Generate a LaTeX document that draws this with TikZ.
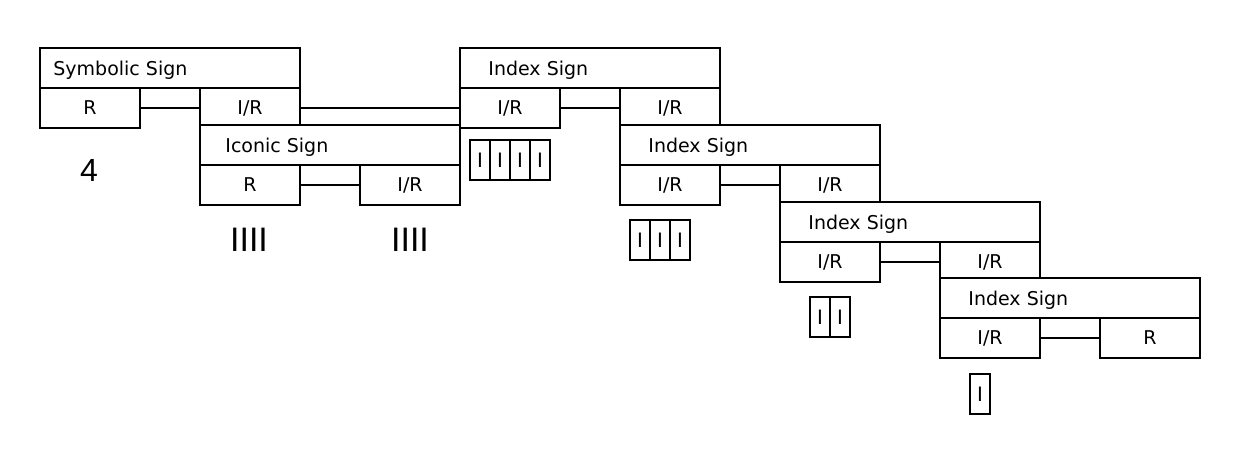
\documentclass[tikz,border=0pt]{standalone}
\usepackage{fontspec}
\setmainfont{DejaVu Sans}
\newfontfamily\barfont{Liberation Sans}
\usepackage{tikz}
\usetikzlibrary{positioning}

\begin{document}
\begin{tikzpicture}[x=0.5pt,y=-0.5pt]
            \tikzstyle{header}=[rectangle, minimum width = 130pt, minimum height = 20pt, inner sep=0pt, line width=1.2pt, draw = black, fill = white]
            \tikzstyle{cell}=[rectangle, minimum width = 50pt, minimum height = 20pt, inner sep=0pt, line width=1.2pt, draw = black, font=\fontsize{9.5}{11}\selectfont]
            \tikzstyle{tally}=[rectangle, minimum width = 10pt, minimum height = 20pt, inner sep=0pt, line width=1pt, draw = black, font=\barfont\fontsize{10.5}{12}\selectfont]
            \tikzstyle{title}=[anchor=west, inner sep=0pt, font=\fontsize{9.5}{11}\selectfont]
            \tikzstyle{bars}=[inner sep=0pt, font=\barfont\fontsize{17}{19}\selectfont]
            \tikzstyle{connect}=[line width=1.2pt]
            \useasboundingbox (0,0) rectangle (1240,455);

            % symbolic sign
            \node[header] (SymH) at (170,68){};
            \node[title] (SymT) at (53,70){Symbolic Sign};
            \node[cell] (SymR) at (90,108){R};
            \node[cell] (SymIR) at (250,108){I/R};

            % iconic sign
            \node[header] (IcoH) at (330,145){};
            \node[title] (IcoT) at (225,147){Iconic Sign};
            \node[cell] (IcoR) at (250,185){R};
            \node[cell] (IcoIR) at (410,185){I/R};

            % index signs
            \node[header] (IdxH1) at (590,68){};
            \node[title] (IdxT1) at (488,70){Index Sign};
            \node[cell] (IdxA1) at (510,108){I/R};
            \node[cell] (IdxB1) at (670,108){I/R};

            \node[header] (IdxH2) at (750,145){};
            \node[title] (IdxT2) at (648,147){Index Sign};
            \node[cell] (IdxA2) at (670,185){I/R};
            \node[cell] (IdxB2) at (830,185){I/R};

            \node[header] (IdxH3) at (910,222){};
            \node[title] (IdxT3) at (808,224){Index Sign};
            \node[cell] (IdxA3) at (830,262){I/R};
            \node[cell] (IdxB3) at (990,262){I/R};

            \node[header] (IdxH4) at (1070,298){};
            \node[title] (IdxT4) at (968,300){Index Sign};
            \node[cell] (IdxA4) at (990,338){I/R};
            \node[cell] (IdxR4) at (1150,338){R};

            % numerals
            \node[inner sep=0pt, font=\barfont\fontsize{16}{18}\selectfont] (Four) at (89,170){4};
            \node[bars] (BarsR) at (249,240){IIII};
            \node[bars] (BarsIR) at (410,240){IIII};

            % tally boxes
            \node[tally] (T11) at (480,160){I};
            \node[tally] (T12) at (500,160){I};
            \node[tally] (T13) at (520,160){I};
            \node[tally] (T14) at (540,160){I};
            \node[tally] (T21) at (640,240){I};
            \node[tally] (T22) at (660,240){I};
            \node[tally] (T23) at (680,240){I};
            \node[tally] (T31) at (820,317){I};
            \node[tally] (T32) at (840,317){I};
            \node[tally] (T41) at (980,394){I};

            \path[-] (SymR) edge [connect] (SymIR);
            \path[-] (SymIR) edge [connect] (IdxA1);
            \path[-] (IcoR) edge [connect] (IcoIR);
            \path[-] (IdxA1) edge [connect] (IdxB1);
            \path[-] (IdxA2) edge [connect] (IdxB2);
            \path[-] (IdxA3) edge [connect] (IdxB3);
            \path[-] (IdxA4) edge [connect] (IdxR4);

        \end{tikzpicture}
\end{document}
